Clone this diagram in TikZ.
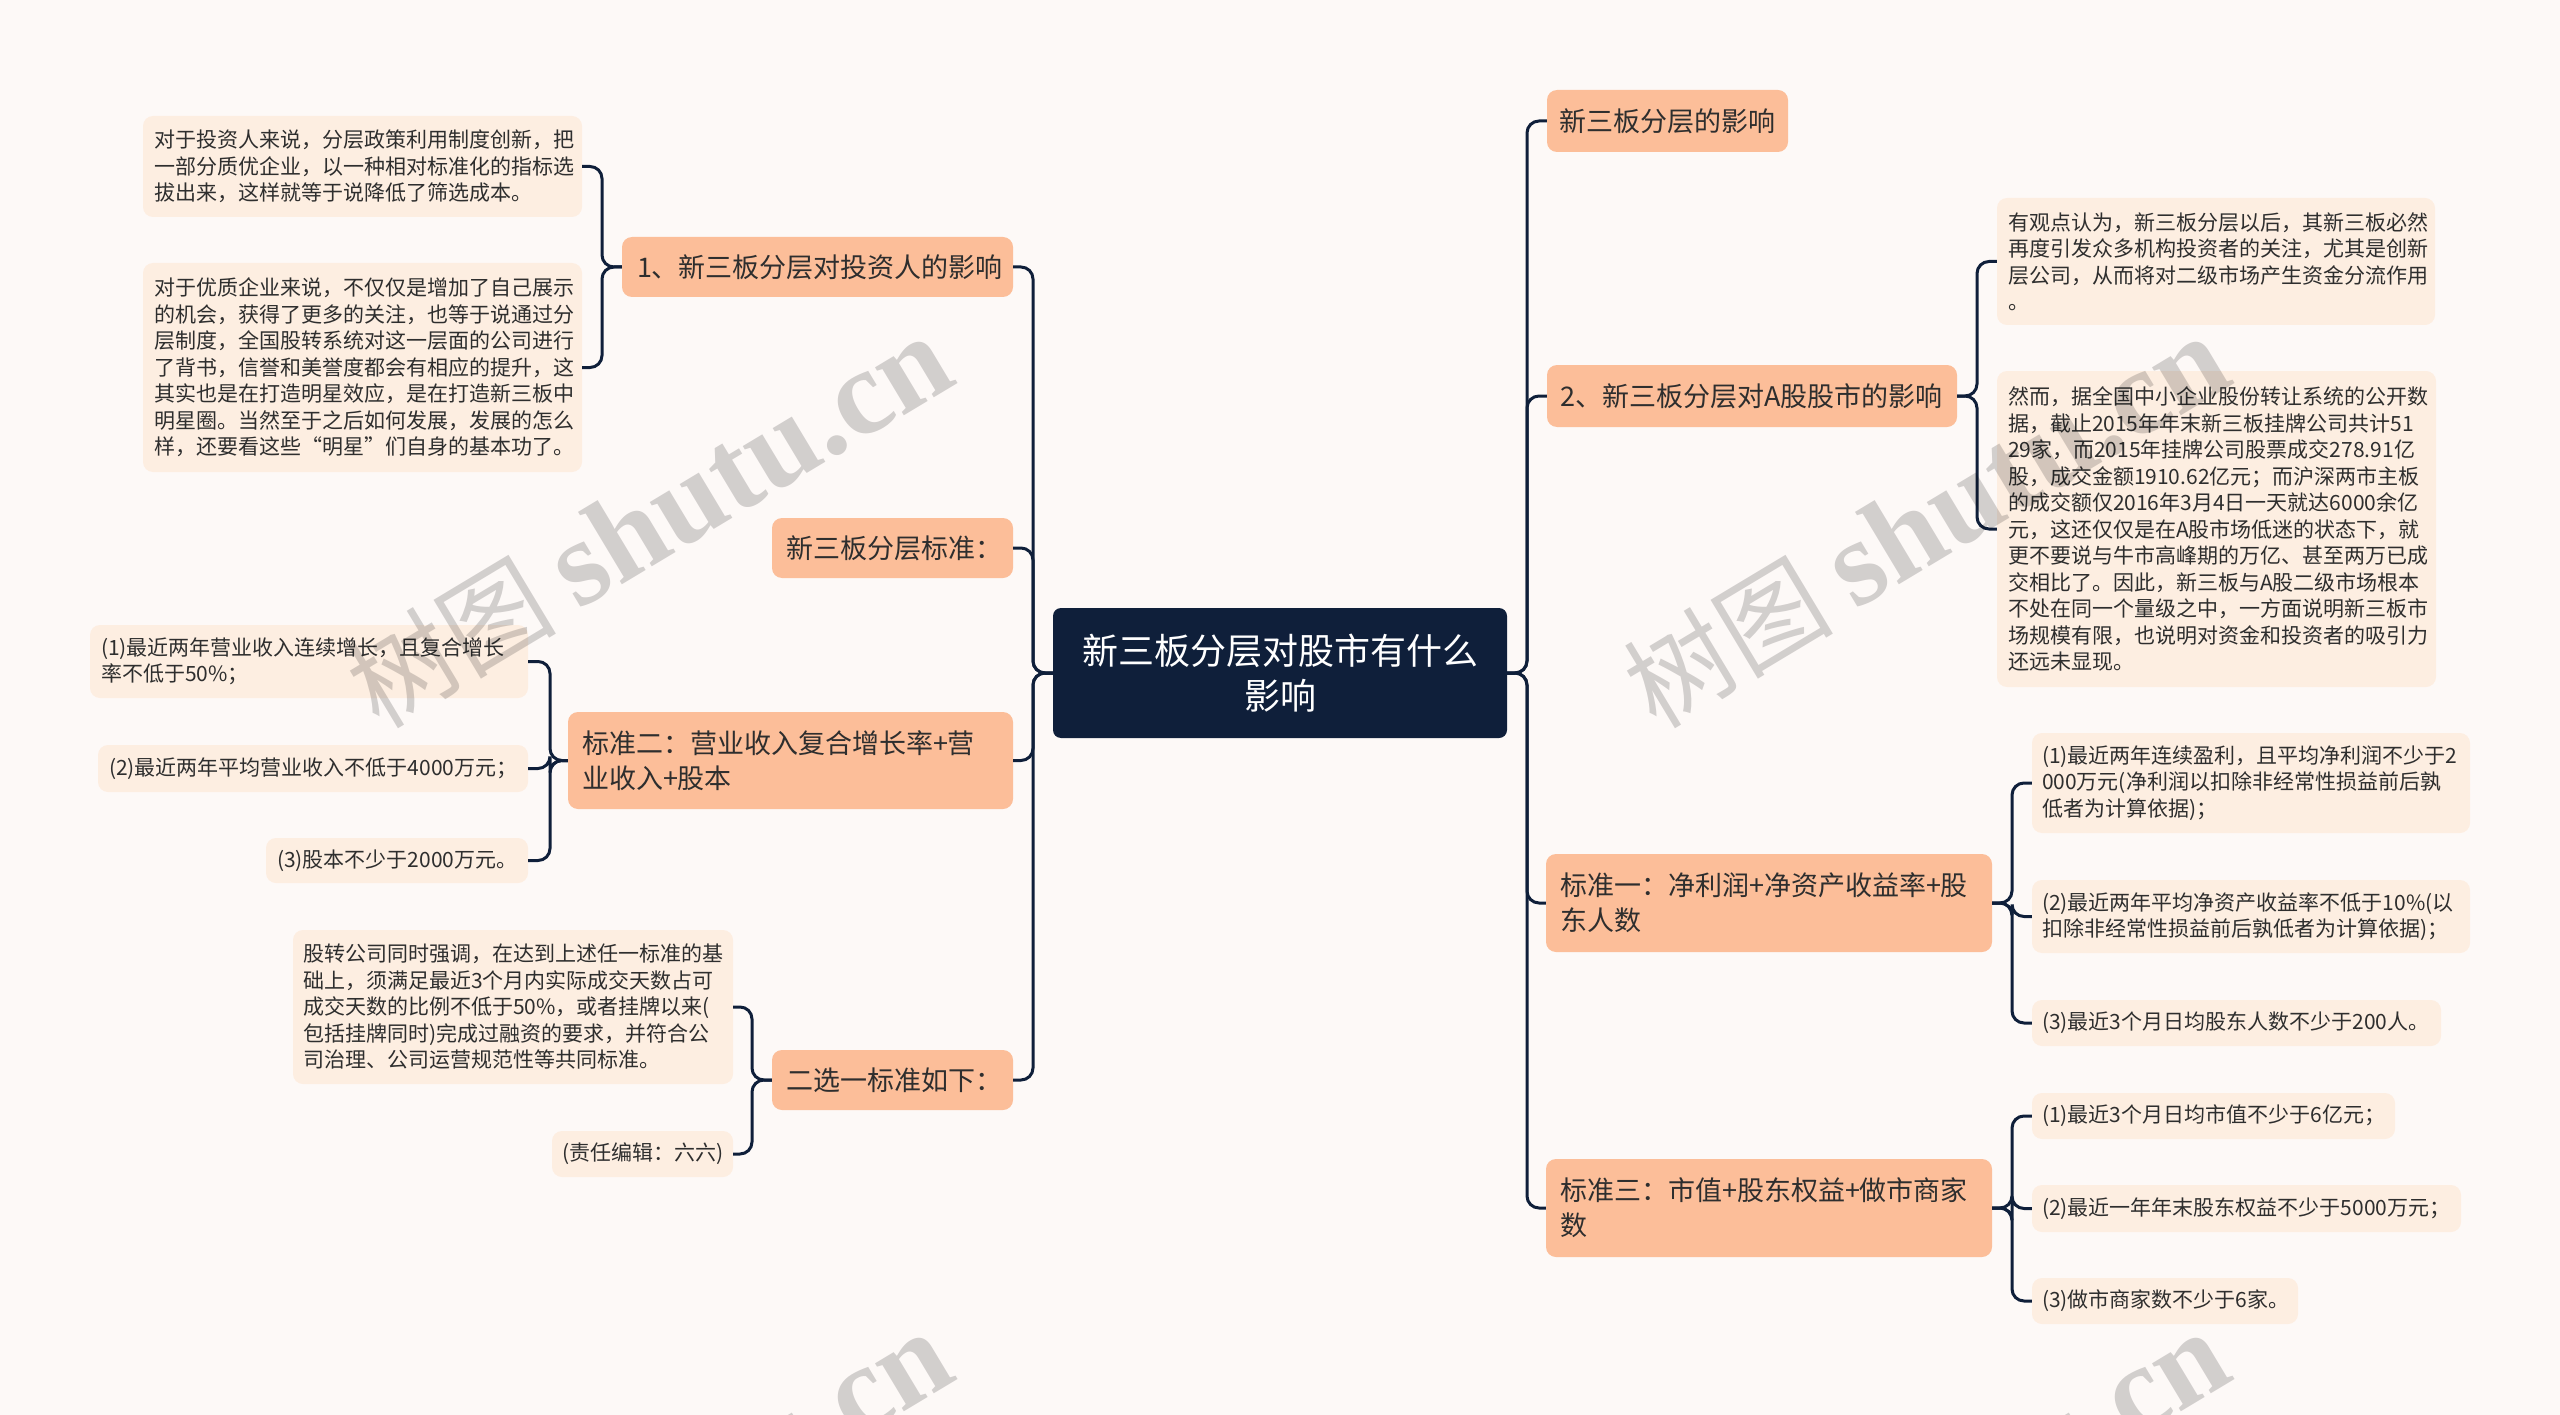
\documentclass[tikz,border=0pt]{standalone}
\usepackage{fontspec}
\setmainfont{Noto Sans CJK SC}
\newfontfamily\wmserif{Liberation Serif}
\definecolor{bgc}{HTML}{FDF9F7}
\definecolor{navy}{HTML}{0F1F3A}
\definecolor{brc}{HTML}{FCBE99}
\definecolor{lfc}{HTML}{FDEEE1}
\definecolor{txt}{HTML}{2E2E2E}
\tikzset{
 box/.style={rounded corners=10pt, inner ysep=0pt, align=left, text=txt},
 ctr/.style={box, fill=navy, text=white, align=center, font=\fontsize{36}{45}\selectfont, rounded corners=8pt},
 br/.style={box, fill=brc, font=\fontsize{27}{35}\selectfont},
 lf/.style={box, fill=lfc, font=\fontsize{21}{26.5}\selectfont},
 conn/.style={draw=navy, line width=3pt, rounded corners=12pt},
 wm/.style={rotate=31, text=black, opacity=0.17, inner sep=0pt}
}
\newcommand\bnode[8]{%
 \pgfmathsetmacro\bw{#5-#3}\pgfmathsetmacro\bh{#6-#4}\pgfmathsetmacro\btw{#5-#3-2*#7}%
 \pgfmathsetmacro\bcx{(#3+#5)/2}\pgfmathsetmacro\bcy{(#4+#6)/2}%
 \node[#1, inner xsep=#7pt, minimum width=\bw pt, minimum height=\bh pt, text width=\btw pt] (#2) at (\bcx,\bcy) {#8};}
\begin{document}
\begin{tikzpicture}[x=1pt, y=-1pt]
\fill[bgc] (0,0) rectangle (2560,1415);
\useasboundingbox (0,0) rectangle (2560,1415);
\clip (0,0) rectangle (2560,1415);
% trunk coordinates
\coordinate (tL) at (1033,0);
\coordinate (tR) at (1527,0);
\coordinate (t1) at (602,0);
\coordinate (t3) at (550,0);
\coordinate (t4) at (752,0);
\coordinate (r2) at (1977,0);
\coordinate (r3) at (2012,0);
% center
\node[ctr, minimum width=454pt, minimum height=130pt, inner sep=0pt] (C) at (1280,673) {新三板分层对股市有什么\\影响};
% left branches
\bnode{br}{B1}{622}{237}{1013}{297}{15}{1、新三板分层对投资人的影响}
\bnode{br}{B2}{772}{518}{1013}{578}{14}{新三板分层标准：}
\bnode{br}{B3}{568}{712}{1013}{809}{14}{标准二：营业收入复合增长率+营\\业收入+股本}
\bnode{br}{B4}{772}{1050}{1013}{1110}{14}{二选一标准如下：}
% left leaves
\bnode{lf}{L1a}{143}{116}{582}{217}{11}{对于投资人来说，分层政策利用制度创新，把\\一部分质优企业，以一种相对标准化的指标选\\拔出来，这样就等于说降低了筛选成本。}
\bnode{lf}{L1b}{143}{263}{582}{472}{11}{对于优质企业来说，不仅仅是增加了自己展示\\的机会，获得了更多的关注，也等于说通过分\\层制度，全国股转系统对这一层面的公司进行\\了背书，信誉和美誉度都会有相应的提升，这\\其实也是在打造明星效应，是在打造新三板中\\明星圈。当然至于之后如何发展，发展的怎么\\样，还要看这些“明星”们自身的基本功了。}
\bnode{lf}{L3a}{90}{625}{528}{698}{11}{(1)最近两年营业收入连续增长，且复合增长\\率不低于50\%；}
\bnode{lf}{L3b}{98}{745}{528}{792}{11}{(2)最近两年平均营业收入不低于4000万元；}
\bnode{lf}{L3c}{266}{838}{528}{883}{11}{(3)股本不少于2000万元。}
\bnode{lf}{L4a}{293}{930}{733}{1084}{10}{股转公司同时强调，在达到上述任一标准的基\\础上，须满足最近3个月内实际成交天数占可\\成交天数的比例不低于50\%，或者挂牌以来(\\包括挂牌同时)完成过融资的要求，并符合公\\司治理、公司运营规范性等共同标准。}
\bnode{lf}{L4b}{552}{1131}{733}{1177}{10}{(责任编辑：六六)}
% right branches
\bnode{br}{R1}{1547}{90}{1788}{152}{12}{新三板分层的影响}
\bnode{br}{R2}{1547}{365}{1957}{427}{13}{2、新三板分层对A股股市的影响}
\bnode{br}{R3}{1546}{854}{1992}{952}{14}{标准一：净利润+净资产收益率+股\\东人数}
\bnode{br}{R4}{1546}{1159}{1992}{1257}{14}{标准三：市值+股东权益+做市商家\\数}
% right leaves
\bnode{lf}{M2a}{1997}{198}{2435}{325}{11}{有观点认为，新三板分层以后，其新三板必然\\再度引发众多机构投资者的关注，尤其是创新\\层公司，从而将对二级市场产生资金分流作用\\。}
\bnode{lf}{M2b}{1997}{371}{2436}{687}{11}{然而，据全国中小企业股份转让系统的公开数\\据，截止2015年年末新三板挂牌公司共计51\\29家，而2015年挂牌公司股票成交278.91亿\\股，成交金额1910.62亿元；而沪深两市主板\\的成交额仅2016年3月4日一天就达6000余亿\\元，这还仅仅是在A股市场低迷的状态下，就\\更不要说与牛市高峰期的万亿、甚至两万已成\\交相比了。因此，新三板与A股二级市场根本\\不处在同一个量级之中，一方面说明新三板市\\场规模有限，也说明对资金和投资者的吸引力\\还远未显现。}
\bnode{lf}{M3a}{2032}{733}{2470}{833}{10}{(1)最近两年连续盈利，且平均净利润不少于2\\000万元(净利润以扣除非经常性损益前后孰\\低者为计算依据)；}
\bnode{lf}{M3b}{2032}{880}{2470}{953}{10}{(2)最近两年平均净资产收益率不低于10\%(以\\扣除非经常性损益前后孰低者为计算依据)；}
\bnode{lf}{M3c}{2032}{1000}{2441}{1046}{10}{(3)最近3个月日均股东人数不少于200人。}
\bnode{lf}{M4a}{2032}{1093}{2395}{1139}{10}{(1)最近3个月日均市值不少于6亿元；}
\bnode{lf}{M4b}{2032}{1185}{2461}{1232}{10}{(2)最近一年年末股东权益不少于5000万元；}
\bnode{lf}{M4c}{2032}{1278}{2298}{1324}{10}{(3)做市商家数不少于6家。}
% connectors
\foreach \c in {B1,B2,B3,B4}
  \draw[conn] (C.west) -- (C.west -| tL) -- (\c.east -| tL) -- (\c.east);
\foreach \c in {R1,R2,R3,R4}
  \draw[conn] (C.east) -- (C.east -| tR) -- (\c.west -| tR) -- (\c.west);
\foreach \c in {L1a,L1b}
  \draw[conn] (B1.west) -- (B1.west -| t1) -- (\c.east -| t1) -- (\c.east);
\foreach \c in {L3a,L3b,L3c}
  \draw[conn] (B3.west) -- (B3.west -| t3) -- (\c.east -| t3) -- (\c.east);
\foreach \c in {L4a,L4b}
  \draw[conn] (B4.west) -- (B4.west -| t4) -- (\c.east -| t4) -- (\c.east);
\foreach \c in {M2a,M2b}
  \draw[conn] (R2.east) -- (R2.east -| r2) -- (\c.west -| r2) -- (\c.west);
\foreach \c in {M3a,M3b,M3c}
  \draw[conn] (R3.east) -- (R3.east -| r3) -- (\c.west -| r3) -- (\c.west);
\foreach \c in {M4a,M4b,M4c}
  \draw[conn] (R4.east) -- (R4.east -| r3) -- (\c.west -| r3) -- (\c.west);
% watermarks
\node[wm] (W1) at (649,522) {\fontsize{105}{110}\selectfont 树图\hspace{22pt}{\wmserif\bfseries\fontsize{122}{130}\selectfont shutu.cn}};
\node[wm] (W2) at (1926,522) {\fontsize{105}{110}\selectfont 树图\hspace{22pt}{\wmserif\bfseries\fontsize{122}{130}\selectfont shutu.cn}};
\node[wm] (W3) at (649,1518) {\fontsize{105}{110}\selectfont 树图\hspace{22pt}{\wmserif\bfseries\fontsize{122}{130}\selectfont shutu.cn}};
\node[wm] (W4) at (1926,1518) {\fontsize{105}{110}\selectfont 树图\hspace{22pt}{\wmserif\bfseries\fontsize{122}{130}\selectfont shutu.cn}};
\end{tikzpicture}
\end{document}
